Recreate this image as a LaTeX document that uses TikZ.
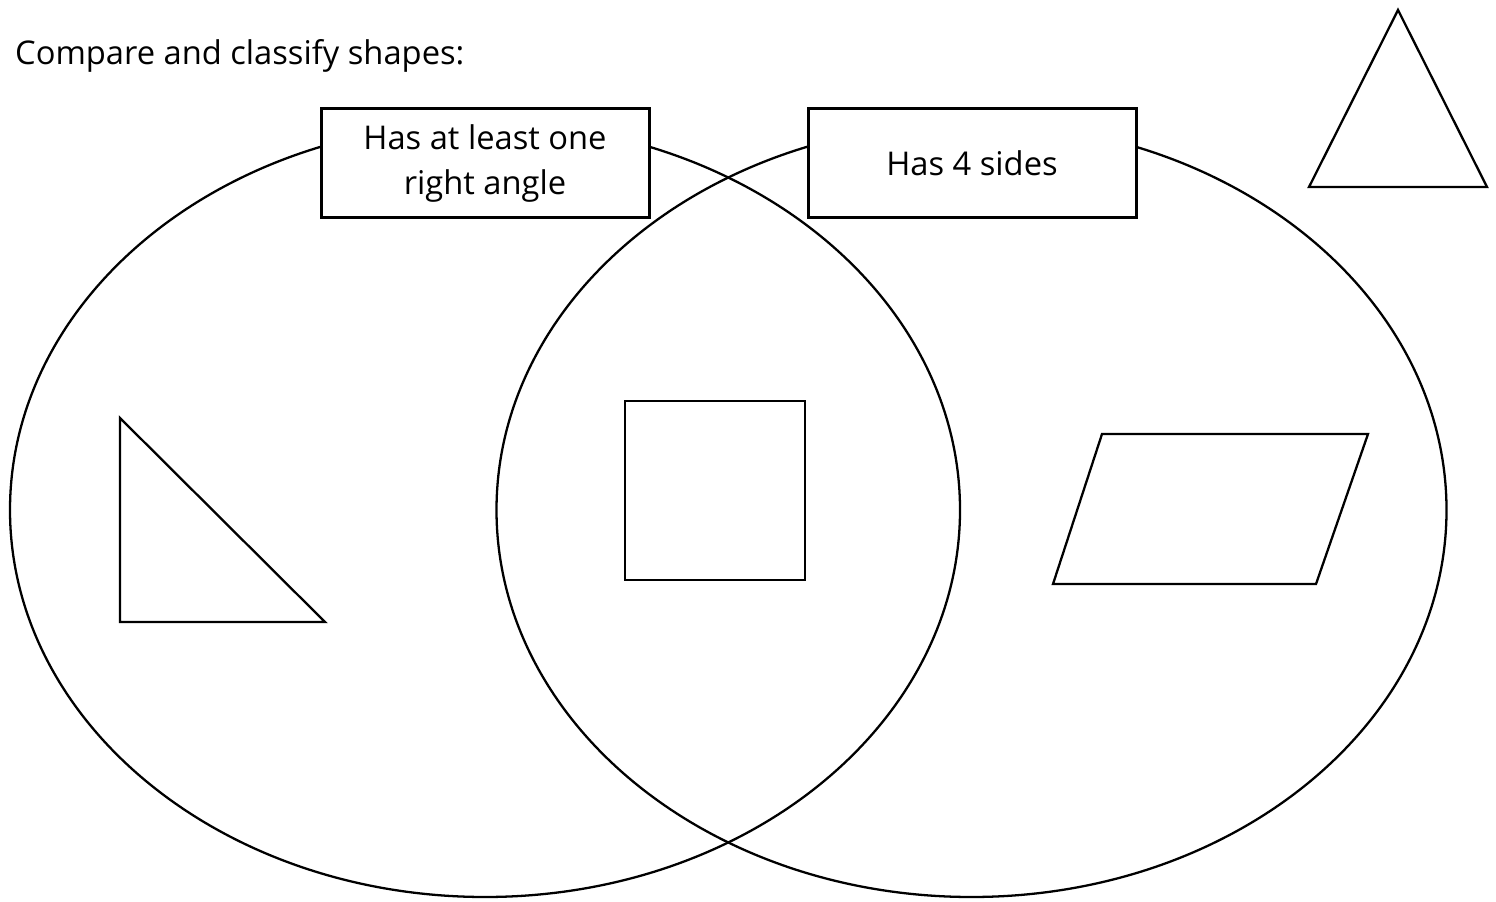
\documentclass[tikz,border=0pt]{standalone}
\usepackage{fontspec}
\setmainfont{Open Sans}
\begin{document}
\begin{tikzpicture}[font=\fontsize{9.3}{13}\selectfont, line width=0.65pt,
    labelbox/.style={draw, fill=white, line width=0.85pt, minimum width=3.28cm,
      minimum height=1.09cm, align=center, inner sep=0pt}]
    \useasboundingbox (0,0) rectangle (14.96,9.01);
    % Ellipse sizes
    \def\rx{4.75}
    \def\ry{3.87}
    \def\cy{3.91}
    % Two sets
    \draw (4.85,\cy) ellipse [x radius=\rx, y radius=\ry];
    \draw (9.715,\cy) ellipse [x radius=\rx, y radius=\ry];
    % Set labels
    \node[labelbox] (rightangle) at (4.85,7.375) {Has at least one\\right angle\vphantom{g}};
    \node[labelbox] (foursides) at (9.72,7.375) {Has 4 sides};
    % Title
    \node[anchor=base west, inner sep=0pt] (title) at (0.14,8.36) {Compare and classify shapes:};
    % Shapes to sort
    \draw (13.98,8.91) -- (13.09,7.14) -- (14.87,7.14) -- cycle;
    \draw (1.20,4.83) -- (1.20,2.79) -- (3.25,2.79) -- cycle;
    \draw (6.25,3.21) rectangle (8.05,5.00);
    \draw (11.02,4.67) -- (13.68,4.67) -- (13.16,3.17) -- (10.53,3.17) -- cycle;
\end{tikzpicture}
\end{document}
